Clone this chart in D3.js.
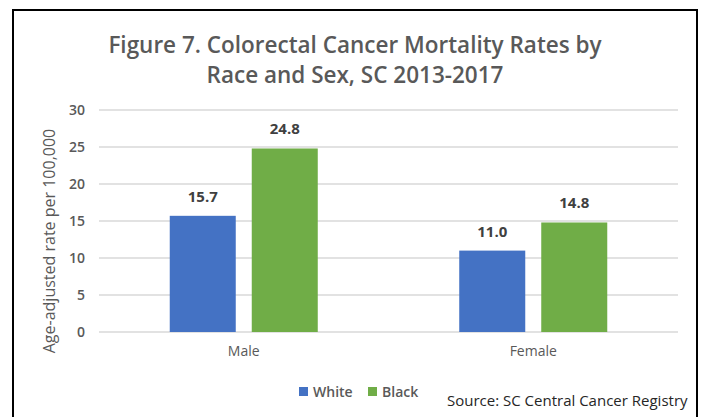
<!DOCTYPE html>
<html>
<head>
<meta charset="utf-8">
<script src="https://cdn.jsdelivr.net/npm/d3@7"></script>
<style>
  body { margin: 0; background: #fff; }
  svg { display: block; font-family: "Open Sans", "Noto Sans", sans-serif; }
</style>
</head>
<body>
<div id="chart"></div>
<script>
// data
var categories = ["Male", "Female"];
var seriesNames = ["White", "Black"];
var whiteValues = [15.7, 11.0];
var blackValues = [24.8, 14.8];
var yTicks = [0, 5, 10, 15, 20, 25, 30];

var colors = { White: "#4472C4", Black: "#70AD47" };
var textColor = "#595959";

var W = 704, H = 417;
var margin = { top: 110, right: 26, bottom: 85, left: 99 },
    width = W - margin.left - margin.right,
    height = H - margin.top - margin.bottom;

var root = d3.select("#chart").append("svg")
    .attr("width", W)
    .attr("height", H);

// outer frame
root.append("rect")
    .attr("x", 13).attr("y", 10)
    .attr("width", 684).attr("height", 420)
    .attr("fill", "none")
    .attr("stroke", "#000")
    .attr("stroke-width", 2);

// title
var title = root.append("text")
    .attr("text-anchor", "middle")
    .style("font-size", "22.5px")
    .style("font-weight", "600")
    .style("fill", textColor);
title.append("tspan").attr("x", 355).attr("y", 53).text("Figure 7. Colorectal Cancer Mortality Rates by");
title.append("tspan").attr("x", 355).attr("y", 83).text("Race and Sex, SC 2013-2017");

var svg = root.append("g")
    .attr("transform", "translate(" + margin.left + "," + margin.top + ")");

var y = d3.scaleLinear().domain([0, 30]).range([height, 0]);
var x0 = d3.scaleBand().domain(categories).range([0, width]);

// gridlines
svg.append("g")
    .selectAll("line")
    .data(yTicks)
    .join("line")
    .attr("x1", 0).attr("x2", width)
    .attr("y1", function (d) { return y(d); })
    .attr("y2", function (d) { return y(d); })
    .attr("stroke", "#d9d9d9")
    .attr("stroke-width", 1.3);

// y axis labels
var yAxis = svg.append("g")
    .call(d3.axisLeft(y).tickValues(yTicks).tickSize(0).tickPadding(14));
yAxis.select(".domain").remove();
yAxis.selectAll("text")
    .style("font-size", "14px")
    .style("font-weight", "600")
    .style("font-family", "\"Open Sans\", sans-serif")
    .style("fill", textColor);

// y axis title
svg.append("text")
    .attr("transform", "rotate(-90)")
    .attr("x", -(height / 2) - 20)
    .attr("y", -44)
    .attr("text-anchor", "middle")
    .style("font-size", "16px")
    .style("fill", textColor)
    .text("Age-adjusted rate per 100,000");

// bars
var barW = x0.bandwidth() * 0.228;
var barGap = 16;
var rows = categories.map(function (c, i) {
    return [
        { cat: c, series: "White", value: whiteValues[i], k: 0 },
        { cat: c, series: "Black", value: blackValues[i], k: 1 }
    ];
});

var groups = svg.selectAll(".grp")
    .data(rows)
    .join("g")
    .attr("class", "grp")
    .attr("transform", function (d) {
        return "translate(" + (x0(d[0].cat) + x0.bandwidth() / 2) + ",0)";
    });

function barX(d) {
    return d.k === 0 ? -barGap / 2 - barW : barGap / 2;
}

groups.selectAll("rect")
    .data(function (d) { return d; })
    .join("rect")
    .attr("x", barX)
    .attr("width", barW)
    .attr("y", function (d) { return y(d.value); })
    .attr("height", function (d) { return height - y(d.value); })
    .attr("fill", function (d) { return colors[d.series]; });

groups.selectAll(".val")
    .data(function (d) { return d; })
    .join("text")
    .attr("class", "val")
    .attr("x", function (d) { return barX(d) + barW / 2; })
    .attr("y", function (d) { return y(d.value) - 14; })
    .attr("text-anchor", "middle")
    .style("font-size", "15px")
    .style("font-weight", "bold")
    .style("fill", "#404040")
    .text(function (d) { return d.value.toFixed(1); });

// x axis labels
var xAxis = svg.append("g")
    .attr("transform", "translate(0," + height + ")")
    .call(d3.axisBottom(x0).tickSize(0).tickPadding(14));
xAxis.select(".domain").remove();
xAxis.selectAll("text")
    .style("font-size", "14px")
    .style("font-family", "\"Open Sans\", sans-serif")
    .style("fill", textColor);

// legend
var legend = root.append("g").attr("transform", "translate(299,387)");
var legX = [0, 69];
seriesNames.forEach(function (s, i) {
    legend.append("rect")
        .attr("x", legX[i]).attr("y", 0)
        .attr("width", 9).attr("height", 9)
        .attr("fill", colors[s]);
    legend.append("text")
        .attr("x", legX[i] + 14).attr("y", 10)
        .style("font-size", "14px")
        .style("font-weight", "600")
        .style("fill", textColor)
        .text(s);
});

// source
root.append("text")
    .attr("x", 447).attr("y", 406)
    .style("font-size", "15px")
    .style("fill", "#262626")
    .text("Source: SC Central Cancer Registry");
</script>
</body>
</html>
